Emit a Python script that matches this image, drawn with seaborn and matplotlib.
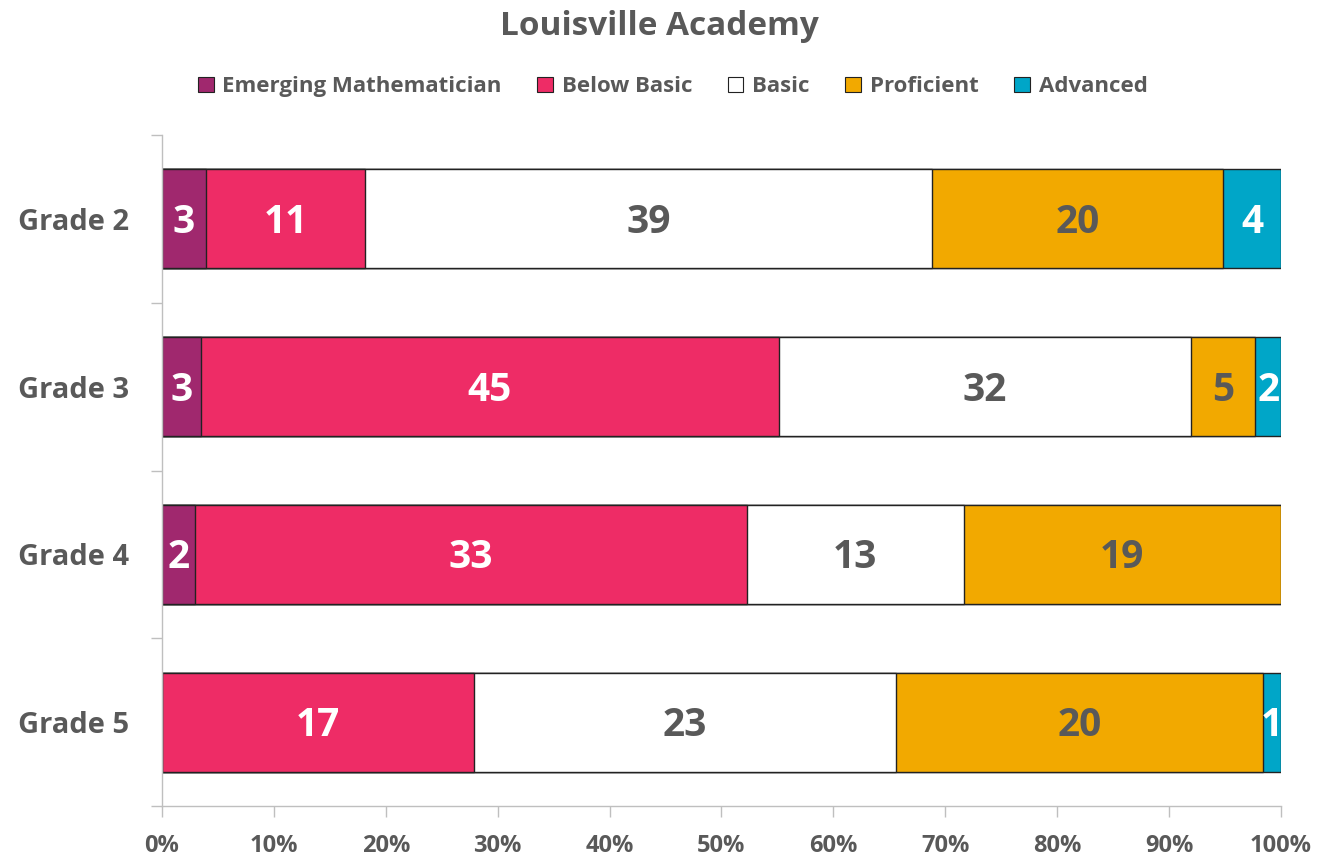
import numpy as np
import pandas as pd
import matplotlib
matplotlib.use("Agg")
import matplotlib.pyplot as plt
import seaborn as sns
from matplotlib.patches import Patch

# ---------------------------------------------------------------------
# data (student counts per level)
grades = ["Grade 2", "Grade 3", "Grade 4", "Grade 5"]
levels = ["Emerging Mathematician", "Below Basic", "Basic", "Proficient", "Advanced"]
emerging = [3, 3, 2, 0]
below_basic = [11, 45, 33, 17]
basic = [39, 32, 13, 23]
proficient = [20, 5, 19, 20]
advanced = [4, 2, 0, 1]
x_ticks = [0, 10, 20, 30, 40, 50, 60, 70, 80, 90, 100]

colors = ["#A0286E", "#EE2C66", "#FFFFFF", "#F2A900", "#00A6C8"]
label_colors = ["white", "white", "#595959", "#595959", "white"]
grey = "#595959"
# ---------------------------------------------------------------------

counts = np.array([emerging, below_basic, basic, proficient, advanced], dtype=float)
pct = counts / counts.sum(axis=0) * 100
cum = np.cumsum(pct, axis=0)

sns.set_style("white")
plt.rcParams['font.family'] = ['Open Sans', 'DejaVu Sans']
plt.rcParams['font.weight'] = 'bold'

fig = plt.figure(figsize=(13.19, 8.59), dpi=100)
ax = fig.add_axes([0.1228, 0.0617, 0.8484, 0.7811])

# stacked bars: draw cumulative totals from the right end back
for i in reversed(range(len(levels))):
    df = pd.DataFrame({"grade": grades, "value": cum[i]})
    sns.barplot(data=df, x="value", y="grade", orient="h", color=colors[i],
                saturation=1, width=0.59, edgecolor="#222222", linewidth=1.0, ax=ax)

# value labels in segment centres
for i in range(len(levels)):
    for j in range(len(grades)):
        if counts[i, j] == 0:
            continue
        xc = cum[i, j] - pct[i, j] / 2
        ax.text(xc, j + 0.02, f"{int(counts[i, j])}", ha="center", va="center",
                fontsize=28, fontweight="bold", color=label_colors[i])

ax.set_xlim(0, 100)
ax.set_ylim(3.5, -0.5)
ax.set_xticks(x_ticks)
ax.set_xticklabels([f"{t}%" for t in x_ticks], fontsize=17, fontweight="bold", color=grey)
ax.set_yticklabels(grades, fontsize=21, fontweight="bold", color=grey)
ax.set_xlabel("")
ax.set_ylabel("")

ax.set_yticks(np.arange(-0.5, 4, 1), minor=True)
ax.tick_params(axis="y", which="major", length=0, pad=24)
ax.tick_params(axis="y", which="minor", left=True, length=8, color="#BFBFBF", width=1)
ax.tick_params(axis="x", bottom=True, length=8, color="#BFBFBF", width=1, pad=12)

sns.despine(ax=ax, top=True, right=True)
for s in ["left", "bottom"]:
    ax.spines[s].set_color("#BFBFBF")
    ax.spines[s].set_linewidth(1)

handles = [Patch(facecolor=c, edgecolor="#222222", linewidth=0.8) for c in colors]
fig.legend(handles, levels, loc="center", bbox_to_anchor=(0.51, 0.899), ncol=5,
           frameon=False, prop={"size": 16, "weight": "bold"}, labelcolor=grey,
           handlelength=0.7, handleheight=0.7, handletextpad=0.4, columnspacing=1.6)

fig.text(0.5, 0.969, "Louisville Academy", ha="center", va="center",
         fontsize=24, fontweight="bold", color=grey)

plt.savefig("out.png", dpi=100)
